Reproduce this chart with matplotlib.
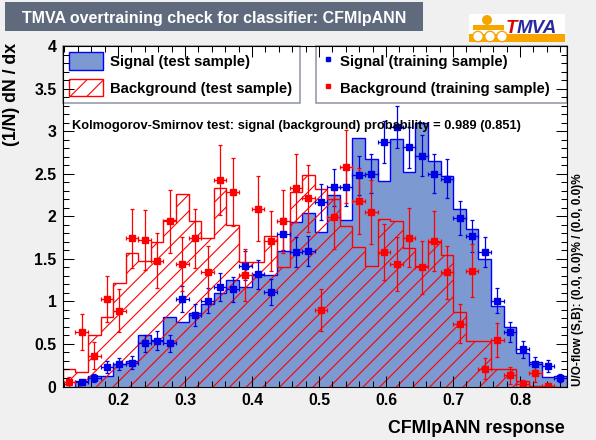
import numpy as np
import matplotlib
matplotlib.use("Agg")
import matplotlib.pyplot as plt
from matplotlib.patches import Rectangle, Circle, Patch
from matplotlib.lines import Line2D
from matplotlib.ticker import MultipleLocator, FuncFormatter

nan = np.nan

# binning of the classifier response
X_MIN, X_MAX, N_BINS = 0.1175, 0.8697, 40

# test samples (histograms, normalised)
sig_test = [0.00, 0.07, 0.12, 0.12, 0.26, 0.30, 0.61, 0.55, 0.82, 0.76,
            0.86, 0.97, 1.10, 1.25, 1.17, 1.31, 1.31, 1.59, 1.93, 2.04,
            1.82, 2.25, 1.96, 2.92, 2.67, 2.41, 2.91, 2.52, 3.10, 2.65,
            2.47, 2.08, 1.85, 1.50, 0.94, 0.70, 0.39, 0.29, 0.11, 0.12]
bkg_test = [0.20, 0.17, 0.61, 0.82, 1.21, 1.57, 1.47, 1.70, 1.96, 2.26,
            1.94, 1.74, 2.33, 1.90, 1.46, 1.46, 1.77, 1.40, 2.28, 2.48,
            2.32, 2.20, 1.89, 1.64, 1.42, 1.97, 1.95, 1.63, 1.41, 1.70,
            1.54, 0.88, 0.53, 0.54, 0.21, 0.21, 0.07, 0.01, 0.00, 0.00]

# training samples (points with errors)
sig_train = [nan, 0.05, 0.10, 0.23, 0.26, 0.28, 0.51, 0.54, 0.51, 1.03,
             0.84, 1.01, 1.17, 1.14, 1.42, 1.32, 1.11, 1.79, 1.58, 1.59,
             2.17, 2.34, 2.34, 2.48, 2.50, 2.87, 3.05, 2.81, 2.71, 2.50,
             2.44, 1.98, 1.77, 1.58, 1.01, 0.64, 0.44, 0.27, 0.24, 0.10]
sig_train_err = [nan, 0.03, 0.05, 0.07, 0.07, 0.08, 0.10, 0.11, 0.10, 0.15,
                 0.13, 0.15, 0.16, 0.15, 0.17, 0.17, 0.15, 0.19, 0.18, 0.18,
                 0.21, 0.22, 0.22, 0.23, 0.23, 0.25, 0.25, 0.24, 0.24, 0.23,
                 0.23, 0.20, 0.19, 0.18, 0.15, 0.12, 0.10, 0.08, 0.07, 0.05]
bkg_train = [0.05, 0.64, 0.36, 1.03, 0.89, 1.74, 1.72, 1.48, 1.94, 1.44,
             1.74, 1.34, 2.43, 2.29, 1.31, 2.09, 1.71, 1.94, 2.33, 2.21,
             0.90, 1.99, 2.58, 2.18, 2.05, 1.58, 1.44, 1.75, 1.40, 1.71,
             1.34, 0.74, 1.36, 0.21, 0.55, 0.13, 0.03, 0.16, 0.005, nan]
bkg_train_err = [0.06, 0.21, 0.16, 0.27, 0.25, 0.35, 0.35, 0.32, 0.37, 0.32,
                 0.35, 0.31, 0.41, 0.40, 0.30, 0.38, 0.35, 0.37, 0.40, 0.39,
                 0.25, 0.37, 0.43, 0.39, 0.38, 0.33, 0.32, 0.35, 0.31, 0.35,
                 0.31, 0.23, 0.31, 0.12, 0.20, 0.10, 0.05, 0.11, 0.00, nan]

ks_sig, ks_bkg = 0.989, 0.851
classifier = "CFMlpANN"

BLUE = "#0000e6"
RED = "#ff0000"
FILL = "#7d99d1"
ORANGE = "#f7a600"
W, H = 596, 440

plt.rcParams["font.family"] = ["Liberation Sans", "DejaVu Sans"]
plt.rcParams["font.weight"] = "bold"
plt.rcParams["hatch.color"] = RED
plt.rcParams["hatch.linewidth"] = 0.8

fig = plt.figure(figsize=(W / 100, H / 100), dpi=100, facecolor="#f0f0f0")

# overlay in pixel coordinates for the decorations round the frame
ov = fig.add_axes([0, 0, 1, 1])
ov.set_xlim(0, W)
ov.set_ylim(H, 0)
ov.axis("off")

ax = fig.add_axes([62.7 / W, (H - 386.5) / H, 504 / W, 340.5 / H])
ax.set_facecolor("white")

edges = np.linspace(X_MIN, X_MAX, N_BINS + 1)
centers = 0.5 * (edges[1:] + edges[:-1])
half = 0.5 * np.diff(edges)

ax.stairs(sig_test, edges, fill=True, facecolor=FILL, edgecolor="none", zorder=1)
ax.stairs(sig_test, edges, color="#0000ff", linewidth=1.0, zorder=1.2)
ax.stairs(bkg_test, edges, fill=True, facecolor="none", edgecolor=RED,
          hatch="//", linewidth=0, zorder=1.3)
ax.stairs(bkg_test, edges, color=RED, linewidth=1.0, zorder=1.35)

ax.errorbar(centers, sig_train, xerr=half, yerr=sig_train_err, fmt="s",
            ms=3.8, color=BLUE, ecolor=BLUE, elinewidth=0.9, capsize=1.5,
            capthick=0.9, zorder=3)
ax.errorbar(centers, bkg_train, xerr=half, yerr=bkg_train_err, fmt="s",
            ms=3.8, color=RED, ecolor=RED, elinewidth=0.9, capsize=1.5,
            capthick=0.9, zorder=3)

ax.set_xlim(X_MIN, X_MAX)
ax.set_ylim(0, 4)
ax.xaxis.set_major_locator(MultipleLocator(0.1))
ax.xaxis.set_minor_locator(MultipleLocator(0.02))
ax.yaxis.set_major_locator(MultipleLocator(0.5))
ax.yaxis.set_minor_locator(MultipleLocator(0.1))
fmt = FuncFormatter(lambda v, p: f"{v:g}")
ax.xaxis.set_major_formatter(fmt)
ax.yaxis.set_major_formatter(fmt)
ax.tick_params(which="both", direction="in", top=True, right=True, width=0.75)
ax.tick_params(which="major", length=8, labelsize=11.4, pad=4.5)
ax.tick_params(which="minor", length=4)
for sp in ax.spines.values():
    sp.set_linewidth(0.8)
    sp.set_zorder(6)

# legends (kept under the axis so the ticks show on top, as in ROOT)
fs = 10.7
leg1 = ax.legend(
    [Patch(facecolor=FILL, edgecolor="#0000ff", linewidth=1.0),
     Patch(facecolor="white", edgecolor=RED, hatch="//", linewidth=1.0)],
    ["Signal (test sample)", "Background (test sample)"],
    loc="upper left", bbox_to_anchor=(0, 0.6, 0.471, 0.4), mode="expand",
    fontsize=fs, handlelength=2.29, handleheight=1.41, labelspacing=0.64,
    borderpad=0.42, handletextpad=0.44, borderaxespad=0, fancybox=False,
    framealpha=1, facecolor="white", edgecolor="#8c95a3")
leg1.get_frame().set_linewidth(1.1)
leg1.set_zorder(1.45)
ax.add_artist(leg1)

leg2 = ax.legend(
    [Line2D([], [], marker="s", ms=3.5, color=BLUE, linestyle="none"),
     Line2D([], [], marker="s", ms=3.5, color=RED, linestyle="none")],
    ["Signal (training sample)", "Background (training sample)"],
    loc="upper left", bbox_to_anchor=(0.5018, 0.6, 0.4982, 0.4), mode="expand",
    fontsize=fs, handlelength=0.8, handleheight=1.41, labelspacing=0.64,
    borderpad=0.42, handletextpad=0.42, borderaxespad=0, fancybox=False,
    framealpha=1, facecolor="white", edgecolor="#8c95a3")
leg2.get_frame().set_linewidth(1.1)
leg2.set_zorder(1.45)

ax.text(0.0185, 0.7665,
        f"Kolmogorov-Smirnov test: signal (background) probability = "
        f"{ks_sig:.3f} ({ks_bkg:.3f})",
        transform=ax.transAxes, fontsize=9.3, ha="left", va="center", zorder=7)

# title box
ov.add_patch(Rectangle((4.5, 2.3), 418.5, 28.7, facecolor="#5f6b7d", edgecolor="none"))
ov.text(22, 22.5, f"TMVA overtraining check for classifier: {classifier}",
        color="white", fontsize=11.5, ha="left", va="baseline")

# TMVA logo
ov.add_patch(Rectangle((469, 14.5), 96, 28, facecolor="white", edgecolor="none"))
ov.add_patch(Rectangle((469, 34), 96, 8.5, facecolor=ORANGE, edgecolor="none"))
ov.add_patch(Rectangle((473, 25), 31, 5, facecolor=ORANGE, edgecolor="none"))
ov.add_patch(Circle((487, 20), 5, facecolor=ORANGE, edgecolor="none"))
for cx in (478, 490, 502):
    ov.add_patch(Circle((cx, 36.5), 5.2, facecolor="white", edgecolor=ORANGE, linewidth=1))
ov.text(506, 33, "T", color="#e00000", fontsize=13.5, style="italic", ha="left", va="baseline")
ov.text(517, 33, "MVA", color="#2a2aa0", fontsize=13.5, style="italic", ha="left", va="baseline")

# axis titles and under/overflow note
ov.text(12, 43, "(1/N) dN / dx", rotation=90, fontsize=12.8, ha="center", va="top")
ov.text(565, 433, f"{classifier} response", fontsize=12.8, ha="right", va="baseline")
ov.text(578, 386.5, "U/O-flow (S,B): (0.0, 0.0)% / (0.0, 0.0)%", rotation=90,
        fontsize=8.5, ha="center", va="bottom")

fig.savefig("out.png", dpi=100, facecolor=fig.get_facecolor())
